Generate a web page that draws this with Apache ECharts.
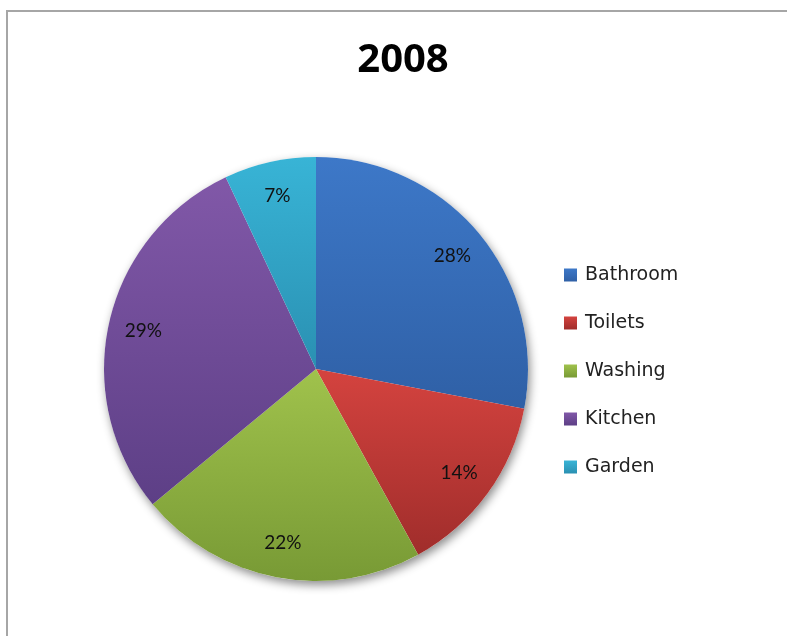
<!DOCTYPE html>
<html>
<head>
<meta charset="utf-8">
<script src="https://cdn.jsdelivr.net/npm/echarts@6/dist/echarts.min.js"></script>
<style>
  html, body { margin: 0; padding: 0; background: #fff; }
  #chart { width: 787px; height: 636px; }
</style>
</head>
<body>
<div id="chart"></div>
<script>
const categories = ['Bathroom', 'Toilets', 'Washing', 'Kitchen', 'Garden']
const shares = [28, 14, 22, 29, 7]
const titleText = '2008'

// top / bottom shade for each slice
const sliceColors = [
  ['#3d78c8', '#2f60a6'],
  ['#d4433f', '#a02d2b'],
  ['#a0c24c', '#789a35'],
  ['#8158a8', '#5d3f86'],
  ['#38b4d6', '#2a90b2']
]

const chart = echarts.init(document.getElementById('chart'))

const grad = (c) => new echarts.graphic.LinearGradient(0, 0, 0, 1, [
  { offset: 0, color: c[0] },
  { offset: 1, color: c[1] }
])

const center = [316, 369]
const R = 212

const option = {
  animation: false,
  title: {
    text: titleText,
    left: 398,
    top: 36,
    textAlign: 'center',
    textStyle: {
      fontFamily: 'Open Sans',
      fontSize: 40,
      fontWeight: 'bold',
      color: '#000'
    }
  },
  graphic: [{
    type: 'rect',
    z: -10,
    shape: { x: 7, y: 11, width: 820, height: 700 },
    style: { fill: 'none', stroke: '#a6a6a6', lineWidth: 2 }
  }],
  legend: {
    orient: 'vertical',
    left: 564,
    top: 265,
    padding: 0,
    icon: 'rect',
    itemWidth: 13,
    itemHeight: 13,
    itemGap: 28,
    data: categories,
    textStyle: {
      fontFamily: 'DejaVu Sans',
      fontSize: 19,
      lineHeight: 20,
      color: '#222',
      padding: [0, 0, 0, 3]
    }
  },
  series: [
    {
      // shadow under the disc
      type: 'pie',
      silent: true,
      center: center,
      radius: [0, R],
      z: 1,
      label: { show: false },
      data: [{ value: 1, name: '' }],
      itemStyle: {
        color: '#fff',
        shadowBlur: 10,
        shadowOffsetX: 2,
        shadowOffsetY: 4,
        shadowColor: 'rgba(0,0,0,0.45)'
      }
    },
    {
      type: 'pie',
      center: center,
      radius: [0, R],
      startAngle: 90,
      clockwise: true,
      z: 2,
      label: { show: false },
      labelLine: { show: false },
      data: categories.map((name, i) => ({
        name: name,
        value: shares[i],
        itemStyle: { color: grad(sliceColors[i]) }
      })),
      itemStyle: { borderWidth: 0 }
    },
    {
      // label ring, placed at ~0.82 of the radius
      type: 'pie',
      silent: true,
      center: center,
      radius: [136, R],
      startAngle: 90,
      clockwise: true,
      z: 3,
      legendHoverLink: false,
      data: categories.map((name, i) => ({
        name: name,
        value: shares[i],
        itemStyle: { color: 'rgba(0,0,0,0)' }
      })),
      label: {
        show: true,
        position: 'inside',
        formatter: (p) => p.value + '%',
        fontFamily: 'Lato',
        fontSize: 19,
        color: '#111'
      },
      labelLine: { show: false }
    }
  ]
}

chart.setOption(option)
</script>
</body>
</html>
